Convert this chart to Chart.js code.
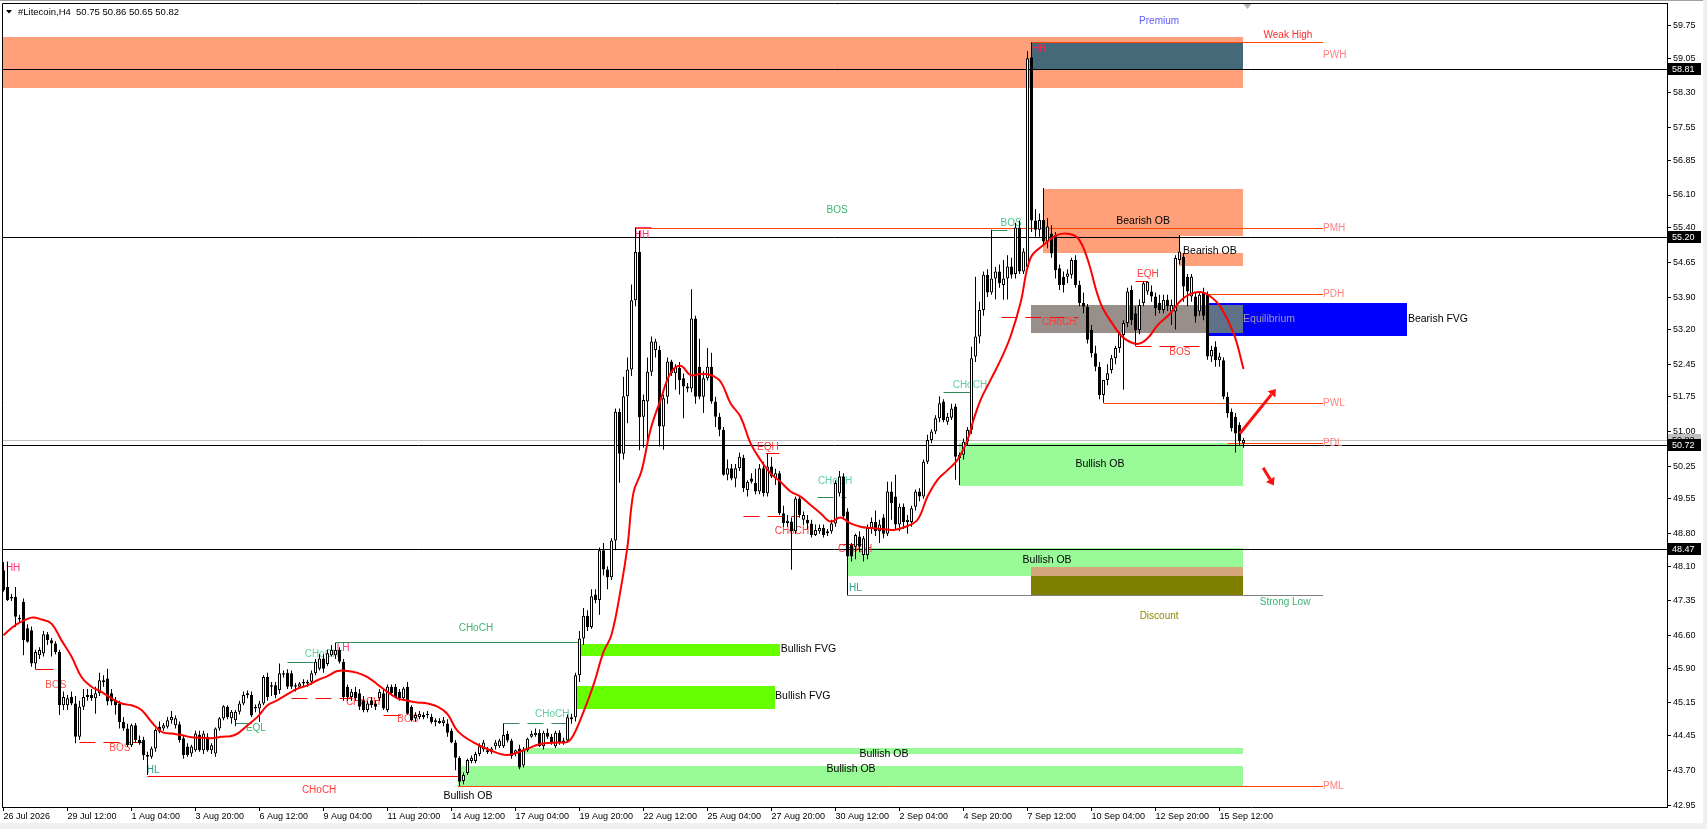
<!DOCTYPE html>
<html>
<head>
<meta charset="utf-8">
<title>#Litecoin,H4</title>
<script src="https://cdn.jsdelivr.net/npm/chart.js@4.4.1/dist/chart.umd.min.js"></script>
<style>
  html, body { margin: 0; padding: 0; background: #fff; overflow: hidden; }
  #wrap { width: 1707px; height: 829px; position: relative; }
</style>
</head>
<body>
<div id="wrap"><canvas id="chart" width="1707" height="829"></canvas></div>
<script>
// H4 candles (bar 0 = 26 Jul 2026)
const opens = [
  48.01,47.65,47.40,47.44,46.95,47.33,46.76,46.72,46.00,46.18,
  46.22,46.63,46.50,46.43,46.25,45.10,45.10,45.28,45.14,44.42,
  45.07,45.28,45.32,45.25,45.36,45.60,45.68,45.36,45.21,45.14,
  44.74,44.60,44.24,44.67,44.35,44.35,44.03,43.99,44.17,44.64,
  44.60,44.64,44.78,44.67,44.69,44.39,44.21,44.06,44.13,44.46,
  44.13,44.42,44.13,44.06,44.60,44.82,45.07,44.82,44.78,44.96,
  45.14,45.32,45.32,45.07,45.03,45.14,45.71,45.50,45.53,45.43,
  45.76,45.80,45.79,45.50,45.50,45.57,45.57,45.61,45.79,45.89,
  46.11,45.99,46.18,46.18,46.29,46.04,45.50,45.28,45.39,45.36,
  45.21,45.00,45.21,45.14,45.25,45.36,45.00,45.50,45.50,45.39,
  45.25,45.50,45.07,44.82,44.85,44.89,44.89,44.85,44.74,44.76,
  44.72,44.71,44.55,44.30,43.97,43.47,43.64,43.90,43.90,44.05,
  44.15,44.13,44.09,44.22,44.22,44.22,44.48,44.34,44.05,44.17,
  43.80,44.13,44.42,44.46,44.51,44.22,44.51,44.42,44.22,44.51,
  44.30,44.34,44.80,44.84,45.75,46.54,47.03,46.79,47.49,47.37,
  48.44,48.03,47.86,48.65,51.43,50.52,51.76,52.34,53.83,54.87,
  51.32,51.65,52.29,52.76,52.76,51.11,51.75,52.51,52.26,52.37,
  52.15,51.97,51.93,53.44,52.40,51.75,52.15,52.40,51.65,51.32,
  51.04,50.07,50.21,49.99,50.21,50.43,49.74,49.99,49.89,49.71,
  50.21,49.67,50.25,50.00,50.10,49.24,49.03,49.06,48.85,49.56,
  49.10,49.10,49.02,48.77,48.85,48.92,48.81,48.85,49.02,49.67,
  50.03,49.28,48.56,48.52,48.74,48.34,48.34,48.92,49.05,48.85,
  49.15,48.80,49.71,49.60,49.00,49.38,49.05,49.05,49.38,49.71,
  49.60,50.35,50.82,51.00,51.29,51.65,51.21,51.30,51.54,50.43,
  50.50,50.78,51.04,52.62,53.05,53.62,54.38,54.00,54.30,54.45,
  54.16,54.30,54.56,54.40,55.40,54.45,54.55,59.07,55.55,55.35,
  55.56,55.10,55.27,55.24,54.52,54.34,54.34,54.38,54.70,54.16,
  53.77,53.69,53.19,52.69,52.40,51.79,52.11,52.33,52.58,52.80,
  53.08,53.34,54.05,53.55,53.19,53.77,54.02,54.02,53.91,53.77,
  53.62,53.84,53.59,53.59,54.70,54.77,54.34,53.91,53.91,53.59,
  54.00,53.97,52.62,52.83,52.54,52.54,51.75,51.43,51.32,51.14,50.75
];
const highs = [
  48.19,48.20,47.50,47.65,47.05,47.40,46.85,46.80,46.30,46.35,
  46.70,46.68,46.55,46.48,46.30,45.40,45.32,45.40,45.30,45.20,
  45.45,45.45,45.45,45.50,45.80,45.75,45.89,45.45,45.28,45.20,
  44.85,44.70,44.70,44.72,44.45,44.42,44.10,44.21,44.60,44.75,
  44.72,44.85,44.98,44.88,44.75,44.45,44.28,44.25,44.55,44.55,
  44.55,44.50,44.28,44.62,44.85,45.10,45.10,45.00,45.00,45.20,
  45.40,45.42,45.40,45.12,45.20,45.75,45.80,45.60,45.60,46.00,
  45.85,45.88,45.85,45.58,45.60,45.66,45.65,45.85,46.10,46.20,
  46.20,46.30,46.40,46.45,46.35,46.10,45.55,45.45,45.50,45.45,
  45.30,45.20,45.28,45.20,45.45,45.45,45.55,45.55,45.56,45.45,
  45.50,45.60,45.10,44.95,44.98,44.95,44.98,44.92,44.82,44.82,
  44.85,44.80,44.60,44.35,44.00,43.65,43.95,44.02,44.10,44.28,
  44.35,44.20,44.20,44.35,44.38,44.71,44.55,44.38,44.15,44.25,
  44.20,44.40,44.55,44.60,44.58,44.55,44.60,44.48,44.55,44.56,
  44.40,44.90,44.92,45.80,46.70,47.20,47.15,47.60,47.60,48.50,
  48.60,48.10,48.70,51.50,51.50,52.18,52.60,54.17,55.40,55.33,
  51.80,52.60,53.05,53.00,52.85,51.80,52.60,52.55,52.45,52.50,
  52.25,52.05,54.07,53.50,53.00,52.30,52.80,52.70,51.75,51.40,
  51.10,50.40,50.30,50.30,50.55,50.50,49.95,50.10,50.20,50.30,
  50.35,50.54,50.45,50.20,50.15,49.40,49.20,49.15,49.60,49.62,
  49.28,49.20,49.10,49.00,49.00,49.00,48.90,49.10,49.95,50.15,
  50.10,49.35,48.60,48.80,48.85,48.75,49.00,49.15,49.30,49.10,
  49.22,49.92,49.92,50.07,49.45,49.45,49.20,49.40,49.75,49.78,
  50.40,50.93,51.05,51.35,51.76,51.70,51.40,51.60,51.60,50.55,
  50.85,51.10,52.83,54.34,53.80,54.45,54.50,55.35,54.55,54.60,
  54.70,54.80,54.75,55.50,55.55,54.95,59.20,59.39,55.80,55.70,
  56.25,55.60,55.45,55.30,54.60,54.45,54.50,54.75,54.80,54.25,
  54.00,53.75,53.30,52.85,52.50,52.10,52.45,52.65,52.85,53.15,
  53.40,54.10,54.15,53.70,53.85,54.24,54.24,54.15,54.00,53.95,
  53.95,53.95,53.85,54.80,55.24,54.85,54.40,54.40,54.00,54.00,
  54.10,54.02,52.85,52.95,52.70,52.60,51.85,51.50,51.40,51.20,50.86
];
const lows = [
  47.55,47.35,47.35,46.79,46.88,46.18,46.45,45.93,45.88,46.10,
  46.15,46.40,46.15,46.20,44.89,45.00,45.00,45.10,44.28,44.35,
  45.00,45.20,45.20,44.92,45.30,45.50,45.10,45.10,44.90,44.60,
  44.55,44.20,44.20,44.30,44.25,43.92,43.60,43.95,44.10,44.50,
  44.55,44.60,44.70,44.60,44.30,43.95,43.99,43.99,44.10,44.10,
  44.05,44.10,44.05,43.99,44.55,44.78,44.80,44.70,44.65,44.90,
  45.10,45.25,44.85,44.95,44.74,45.10,45.20,45.30,45.25,45.35,
  45.70,45.45,45.45,45.40,45.45,45.50,45.50,45.55,45.75,45.85,
  45.80,45.95,46.15,46.10,46.00,45.20,45.20,45.20,45.20,45.00,
  44.95,44.95,45.05,45.00,45.20,45.00,44.95,45.30,45.25,45.20,
  45.20,44.90,44.75,44.75,44.80,44.80,44.82,44.70,44.65,44.70,
  44.65,44.42,44.28,43.70,43.36,43.40,43.60,43.85,43.85,44.00,
  44.10,44.05,44.05,44.15,44.18,44.18,44.30,43.95,44.00,43.72,
  43.76,44.10,44.40,44.42,44.20,44.15,44.38,44.25,44.18,44.25,
  44.25,44.30,44.70,44.75,45.60,46.40,46.70,46.75,47.30,47.05,
  47.90,47.60,47.80,48.44,49.90,50.40,51.18,52.20,53.70,50.60,
  50.65,50.82,52.20,52.60,50.68,50.61,51.60,52.20,51.90,51.80,
  51.29,51.85,51.85,51.60,51.70,51.40,52.10,51.60,51.10,50.90,
  50.05,49.95,49.95,49.80,50.15,49.70,49.60,49.88,49.65,49.65,
  49.60,49.60,50.00,49.85,49.20,48.95,48.95,48.02,48.80,49.15,
  48.98,48.90,48.72,48.75,48.80,48.72,48.75,48.80,48.95,49.60,
  49.10,47.47,48.20,48.25,48.40,48.20,48.25,48.80,48.75,48.60,
  48.70,48.75,49.10,48.90,48.85,48.90,48.80,48.95,49.30,49.50,
  49.55,50.30,50.75,50.95,51.20,51.20,51.15,51.25,49.96,49.85,
  50.40,50.70,50.95,52.50,52.90,53.50,53.90,53.95,53.85,54.10,
  53.84,53.85,54.30,54.30,54.40,54.40,54.50,55.30,55.20,55.20,
  55.00,54.95,54.75,54.30,54.05,54.00,54.20,54.30,54.10,53.70,
  53.55,52.90,52.60,52.30,51.70,51.62,52.00,52.25,52.45,52.70,
  51.90,53.25,53.30,52.85,53.10,53.70,53.95,53.80,53.50,53.55,
  53.55,53.60,53.30,53.20,54.60,53.80,53.70,53.80,53.35,53.50,
  53.40,52.55,52.50,52.40,52.40,51.70,51.30,51.00,50.55,50.70,50.65
];
const closes = [
  47.58,47.37,47.44,47.01,46.99,46.50,46.47,46.00,46.25,46.29,
  46.63,46.50,46.43,46.25,45.10,45.28,45.25,45.14,44.42,45.07,
  45.28,45.32,45.25,45.36,45.64,45.64,45.18,45.18,45.10,44.74,
  44.60,44.24,44.67,44.35,44.28,44.03,43.99,44.17,44.57,44.53,
  44.67,44.78,44.85,44.82,44.35,44.03,44.03,44.21,44.49,44.13,
  44.49,44.13,44.24,44.60,44.82,45.08,44.85,44.96,44.96,45.14,
  45.32,45.36,44.88,45.03,45.14,45.71,45.28,45.53,45.32,45.79,
  45.79,45.50,45.50,45.53,45.57,45.61,45.61,45.79,46.04,46.11,
  45.89,46.22,46.29,46.29,46.04,45.28,45.28,45.39,45.25,45.07,
  45.00,45.14,45.10,45.07,45.39,45.03,45.50,45.36,45.28,45.25,
  45.46,44.92,44.78,44.89,44.92,44.85,44.92,44.74,44.78,44.72,
  44.78,44.51,44.30,43.97,43.45,43.60,43.92,43.97,44.05,44.22,
  44.30,44.09,44.17,44.30,44.34,44.46,44.34,44.01,44.13,43.76,
  44.13,44.38,44.48,44.51,44.22,44.51,44.42,44.30,44.51,44.30,
  44.34,44.84,44.84,45.75,46.54,47.03,46.79,47.45,47.37,48.44,
  48.03,47.86,48.65,51.43,50.52,51.76,52.34,53.83,54.87,51.31,
  51.68,52.29,52.94,52.94,51.11,51.72,52.51,52.26,52.40,52.11,
  51.97,51.93,53.44,51.75,51.75,52.15,52.40,51.65,51.32,51.04,
  50.07,50.21,49.99,50.21,50.46,49.78,49.92,49.92,49.71,50.21,
  49.67,50.25,50.03,50.10,49.24,49.03,49.08,48.85,49.56,49.20,
  49.20,49.02,48.77,48.88,48.92,48.77,48.85,49.02,49.89,50.03,
  49.17,48.31,48.31,48.77,48.52,48.70,48.92,49.05,48.85,49.00,
  48.80,49.71,49.46,49.00,49.38,49.05,49.10,49.35,49.71,49.60,
  50.35,50.82,51.00,51.29,51.61,51.25,51.32,51.50,50.46,50.50,
  50.78,51.04,52.58,53.05,53.62,54.38,54.00,54.30,54.45,54.20,
  54.30,54.56,54.38,55.40,54.45,54.88,59.05,55.55,55.35,55.56,
  55.10,55.42,54.84,54.48,54.16,54.16,54.41,54.70,54.16,53.77,
  53.69,52.98,52.69,52.40,51.79,52.11,52.26,52.58,52.80,53.12,
  53.34,54.02,53.40,53.19,53.73,54.20,54.23,53.91,53.66,53.62,
  53.84,53.70,53.73,54.74,54.88,54.13,54.02,54.34,53.48,53.95,
  53.50,52.62,52.76,52.54,52.62,51.75,51.40,51.07,50.96,50.79,50.82
];

// red moving average, [bar, price] read at intervals
const maPoints = [
  [0,46.61],[3,46.83],[7,46.99],[9.5,46.95],[12,46.86],[14.5,46.50],[17,46.15],[19.5,45.71],
  [22,45.50],[24.5,45.39],[27,45.25],[29.5,45.14],[32,45.10],[34.5,45.00],[37,44.74],[39.5,44.53],
  [42,44.49],[44.5,44.46],[47,44.41],[49.5,44.40],[52,44.39],[54.5,44.42],[57,44.44],[58.5,44.49],
  [61,44.67],[63.5,44.85],[66,45.10],[68.5,45.21],[71,45.34],[73.5,45.46],[76,45.53],[78.5,45.64],
  [81,45.73],[83.5,45.84],[86,45.84],[88.5,45.80],[91,45.71],[93.5,45.55],[96,45.39],[98.5,45.25],
  [101,45.20],[103.5,45.16],[106,45.14],[108.5,45.07],[111,44.91],[113.5,44.55],[117.5,44.30],
  [122,44.12],[126,44.03],[130,44.13],[134,44.26],[138.5,44.30],[141,44.31],[142.5,44.46],
  [145,44.96],[147.5,45.54],[150,46.25],[152,46.62],[154.5,47.70],[156,48.53],[157.5,49.69],
  [159.5,50.15],[161.75,51.04],[164.25,51.68],[166.75,52.26],[169.25,52.42],[171.75,52.22],
  [174.25,52.24],[176.75,52.22],[179.25,52.08],[181.75,51.61],[184.25,51.32],[186.75,50.75],
  [189.25,50.39],[191.75,50.10],[194.25,49.92],[196.75,49.71],[199.25,49.60],[201.75,49.42],
  [204.25,49.24],[206.75,49.06],[209.25,49.15],[211.75,49.02],[214.25,48.95],[216.75,48.92],
  [219.5,48.90],[222.5,48.88],[225.5,48.95],[228.5,49.10],[231,49.60],[233.5,49.96],[236,50.17],
  [238.5,50.39],[241,50.82],[242.5,51.25],[244.25,51.68],[246.75,52.11],[249.25,52.54],
  [251.75,53.05],[254.25,53.77],[256.75,54.74],[260,55.02],[263.5,55.24],[266.5,55.26],
  [268.8,55.15],[271,54.72],[274.25,53.77],[277.6,53.28],[280,53.02],[283.4,52.89],[285.9,53.00],
  [288.6,53.30],[291.75,53.55],[294.25,53.82],[296.75,53.97],[299.25,54.01],[301.5,53.93],
  [304.25,53.69],[307.6,53.10],[310,52.35]
];

const timeLabels = ['26 Jul 2026','29 Jul 12:00','1 Aug 04:00','3 Aug 20:00','6 Aug 12:00',
  '9 Aug 04:00','11 Aug 20:00','14 Aug 12:00','17 Aug 04:00','19 Aug 20:00','22 Aug 12:00',
  '25 Aug 04:00','27 Aug 20:00','30 Aug 12:00','2 Sep 04:00','4 Sep 20:00','7 Sep 12:00',
  '10 Sep 04:00','12 Sep 20:00','15 Sep 12:00'];
const barsPerLabel = 16;
const priceTicks = [42.95,43.70,44.45,45.15,45.90,46.60,47.35,48.10,48.80,49.55,50.25,51.00,
  51.75,52.45,53.20,53.90,54.65,55.40,56.10,56.85,57.55,58.30,59.05,59.75];
const priceLines = [58.81, 55.20, 50.72, 48.47];
const bidPrice = 50.82;

// zones: [fromBar, toBar, priceTop, priceBottom, colour]
const zones = [
  [-0.5, 309.9, 59.51, 58.41, '#FFA07A'],
  [256.9, 309.9, 59.39, 58.81, '#46697A'],
  [259.9, 309.9, 56.23, 55.22, '#FFA07A'],
  [259.9, 293.9, 55.22, 54.86, '#FFA07A'],
  [293.9, 309.9, 54.86, 54.56, '#FFA07A'],
  [256.9, 301.1, 53.73, 53.12, '#988E8A'],
  [301.1, 350.9, 53.77, 53.07, '#0000FF'],
  [301.1, 309.9, 53.73, 53.12, '#5F7189'],
  [238.75, 309.9, 50.75, 49.82, '#98FB98'],
  [210.9, 309.9, 48.50, 47.89, '#98FB98'],
  [256.9, 309.9, 48.08, 47.89, '#D6A67C'],
  [256.9, 309.9, 47.89, 47.47, '#808000'],
  [129.8, 309.9, 44.17, 44.06, '#98FB98'],
  [113.6, 309.9, 43.79, 43.37, '#98FB98'],
  [144.1, 194.0, 46.42, 46.17, '#66FF00'],
  [143.1, 192.9, 45.52, 45.02, '#66FF00']
];

// level / structure lines: [fromBar, toBar, price, colour, dashed]
const segments = [
  [256.9, 329.9, 59.39, '#FF4500', false],
  [158, 329.9, 55.38, '#FF4500', false],
  [301.1, 329.9, 53.96, '#FF4500', false],
  [275, 329.9, 51.61, '#FF4500', false],
  [306, 329.9, 50.75, '#FF4500', false],
  [113.6, 329.9, 43.35, '#FF4500', false],
  [211, 329.9, 47.47, '#7F7F7F', false],
  [8, 12.5, 45.88, '#FF0000', false],
  [19, 35, 44.31, '#FF0000', true],
  [36, 113.6, 43.57, '#FF0000', false],
  [58, 63.4, 44.72, '#2E8B57', true],
  [71, 77.5, 46.03, '#2E8B57', false],
  [72, 87, 45.25, '#FF0000', true],
  [95, 99.3, 44.90, '#FF0000', false],
  [83, 144, 46.46, '#2E8B57', false],
  [125, 141, 44.72, '#2E8B57', true],
  [158, 162, 55.41, '#FF3377', false],
  [190.6, 194, 50.54, '#FF0000', true],
  [185, 199, 49.18, '#FF0000', true],
  [203.5, 210.7, 49.59, '#2E8B57', true],
  [209, 214, 48.58, '#FF0000', false],
  [235, 242, 51.86, '#2E8B57', false],
  [247, 251, 55.35, '#2E8B57', false],
  [249.5, 268.7, 53.48, '#FF0000', true],
  [283, 286, 54.25, '#FF0000', true],
  [283, 299.5, 52.85, '#FF0000', true]
];

// labels: [text, bar, price, colour, align, size]
const labels = [
  ['Premium', 288.9, 59.85, '#5B5BFF', 'center', 10],
  ['Weak High', 321.1, 59.55, '#FF2A2A', 'center', 10],
  ['PWH', 329.9, 59.12, '#FF7F7F', 'left', 10],
  ['PMH', 329.9, 55.38, '#FF7F7F', 'left', 10],
  ['PDH', 329.9, 53.96, '#FF7F7F', 'left', 10],
  ['PWL', 329.9, 51.61, '#FF7F7F', 'left', 10],
  ['PDL', 329.9, 50.75, '#FF7F7F', 'left', 10],
  ['PML', 329.9, 43.35, '#FF7F7F', 'left', 10],
  ['Bearish OB', 284.9, 55.54, '#000000', 'center', 10.5],
  ['Bearish OB', 294.9, 54.89, '#000000', 'left', 10.5],
  ['Equilibrium', 309.9, 53.43, '#A09AB4', 'left', 10.5],
  ['Bearish FVG', 351.1, 53.43, '#000000', 'left', 10.5],
  ['Bullish OB', 274.1, 50.30, '#000000', 'center', 10.5],
  ['Bullish OB', 260.9, 48.22, '#000000', 'center', 10.5],
  ['Bullish OB', 220.1, 44.04, '#000000', 'center', 10.5],
  ['Bullish OB', 211.9, 43.73, '#000000', 'center', 10.5],
  ['Bullish OB', 116.1, 43.14, '#000000', 'center', 10.5],
  ['Bullish FVG', 194.3, 46.31, '#000000', 'left', 10.5],
  ['Bullish FVG', 192.9, 45.29, '#000000', 'left', 10.5],
  ['Discount', 288.9, 47.03, '#8B8B00', 'center', 10],
  ['Strong Low', 320.4, 47.33, '#3CB371', 'center', 10],
  ['HH', 257.1, 59.24, '#FF2050', 'left', 10],
  ['HH', 159.6, 55.23, '#FF3377', 'center', 10],
  ['BOS', 208.4, 55.77, '#3CB371', 'center', 10],
  ['BOS', 251.9, 55.49, '#4CC28E', 'center', 10],
  ['CHoCH', 263.9, 53.35, '#FF3B3B', 'center', 10],
  ['CHoCH', 241.6, 51.99, '#5FCFA0', 'center', 10],
  ['EQH', 286.1, 54.40, '#FF3B3B', 'center', 10],
  ['BOS', 294.1, 52.72, '#FF3B3B', 'center', 10],
  ['EQH', 191.1, 50.67, '#FF3B3B', 'center', 10],
  ['CHoCH', 197.1, 48.86, '#FF3B3B', 'center', 10],
  ['CHoCH', 207.9, 49.92, '#5FCFA0', 'center', 10],
  ['CHoCH', 212.9, 48.47, '#FF3B3B', 'center', 10],
  ['HL', 211.4, 47.63, '#2E9E8A', 'left', 10],
  ['CHoCH', 118.1, 46.76, '#3CB371', 'center', 10],
  ['CHoCH', 137.2, 44.90, '#5FCFA0', 'center', 10],
  ['HH', 2.4, 48.06, '#FF3377', 'center', 10],
  ['BOS', 13.1, 45.53, '#FF5050', 'center', 10],
  ['BOS', 29.1, 44.17, '#FF5050', 'center', 10],
  ['HL', 37.4, 43.70, '#2E9E8A', 'center', 10],
  ['CHoCH', 78.9, 43.26, '#FF3B3B', 'center', 10],
  ['EQL', 63.1, 44.61, '#3CB371', 'center', 10],
  ['CHoCH', 79.6, 46.20, '#5FCFA0', 'center', 10],
  ['LH', 84.9, 46.33, '#FF3377', 'center', 10],
  ['CHoCH', 89.9, 45.17, '#FF3B3B', 'center', 10],
  ['BOS', 101.1, 44.81, '#FF5050', 'center', 10]
];

// arrows: [fromBar, fromPrice, toBar, toPrice]
const arrows = [
  [309.1, 50.96, 318.1, 51.92],
  [314.9, 50.22, 317.6, 49.84]
];

const FONT = '"Liberation Sans", Arial, sans-serif';

const overlay = {
  id: 'overlay',
  beforeDatasetsDraw(chart) {
    const { ctx, chartArea: a, scales: { x, y } } = chart;
    ctx.save();
    ctx.beginPath();
    ctx.rect(a.left, a.top, a.right - a.left, a.bottom - a.top);
    ctx.clip();

    zones.forEach(z => {
      const x1 = Math.round(x.getPixelForValue(z[0]));
      const x2 = Math.round(x.getPixelForValue(z[1]));
      const y1 = Math.round(y.getPixelForValue(z[2]));
      const y2 = Math.round(y.getPixelForValue(z[3]));
      ctx.fillStyle = z[4];
      ctx.fillRect(x1, y1, x2 - x1, y2 - y1);
    });

    ctx.lineWidth = 1;
    // bid line
    const yb = Math.round(y.getPixelForValue(bidPrice)) + 0.5;
    ctx.strokeStyle = '#C0C0C0';
    ctx.beginPath(); ctx.moveTo(a.left, yb); ctx.lineTo(a.right, yb); ctx.stroke();

    segments.forEach(s => {
      const x1 = x.getPixelForValue(s[0]), x2 = x.getPixelForValue(s[1]);
      const yy = Math.round(y.getPixelForValue(s[2])) + 0.5;
      ctx.strokeStyle = s[3];
      ctx.setLineDash(s[4] ? [16, 8] : []);
      ctx.beginPath(); ctx.moveTo(x1, yy); ctx.lineTo(x2, yy); ctx.stroke();
    });
    ctx.setLineDash([]);

    // horizontal price lines
    ctx.strokeStyle = '#000';
    priceLines.forEach(p => {
      const yy = Math.round(y.getPixelForValue(p)) + 0.5;
      ctx.beginPath(); ctx.moveTo(a.left, yy); ctx.lineTo(a.right, yy); ctx.stroke();
    });

    ctx.textBaseline = 'middle';
    labels.forEach(l => {
      ctx.font = l[5] + 'px ' + FONT;
      ctx.fillStyle = l[3];
      ctx.textAlign = l[4];
      ctx.fillText(l[0], x.getPixelForValue(l[1]), y.getPixelForValue(l[2]));
    });

    // chart shift marker
    const mx = x.getPixelForValue(311);
    ctx.fillStyle = '#B4B4B4';
    ctx.beginPath(); ctx.moveTo(mx - 4, a.top + 1); ctx.lineTo(mx + 4, a.top + 1); ctx.lineTo(mx, a.top + 6); ctx.closePath(); ctx.fill();
    ctx.restore();
  },
  afterDatasetsDraw(chart) {
    const { ctx, scales: { x, y } } = chart;
    ctx.save();
    ctx.strokeStyle = '#FF1010';
    ctx.fillStyle = '#FF1010';
    ctx.lineWidth = 3;
    arrows.forEach(ar => {
      const x1 = x.getPixelForValue(ar[0]), y1 = y.getPixelForValue(ar[1]);
      const x2 = x.getPixelForValue(ar[2]), y2 = y.getPixelForValue(ar[3]);
      const ang = Math.atan2(y2 - y1, x2 - x1);
      const hx = x2 - 7 * Math.cos(ang), hy = y2 - 7 * Math.sin(ang);
      ctx.beginPath(); ctx.moveTo(x1, y1); ctx.lineTo(hx, hy); ctx.stroke();
      ctx.beginPath();
      ctx.moveTo(x2, y2);
      ctx.lineTo(hx + 5 * Math.sin(ang), hy - 5 * Math.cos(ang));
      ctx.lineTo(hx - 5 * Math.sin(ang), hy + 5 * Math.cos(ang));
      ctx.closePath(); ctx.fill();
    });
    ctx.restore();
  },
  afterDraw(chart) {
    const { ctx, chartArea: a, scales: { y } } = chart;
    ctx.save();
    // frame
    ctx.strokeStyle = '#000';
    ctx.lineWidth = 1;
    ctx.beginPath();
    ctx.moveTo(a.left + 0.5, a.bottom); ctx.lineTo(a.left + 0.5, a.top + 0.5); ctx.lineTo(a.right, a.top + 0.5);
    ctx.stroke();
    ctx.strokeStyle = '#A0A0A0';
    ctx.beginPath(); ctx.moveTo(0, 0.5); ctx.lineTo(1707, 0.5); ctx.stroke();
    ctx.fillStyle = '#F0F0F0';
    ctx.fillRect(0, 823, 1707, 6);
    ctx.fillRect(1703, 0, 4, 829);

    // price labels on the axis
    ctx.font = '9px ' + FONT;
    ctx.textBaseline = 'middle';
    ctx.textAlign = 'left';
    const box = (p, bg, fg) => {
      const yy = Math.round(y.getPixelForValue(p));
      ctx.fillStyle = bg;
      ctx.fillRect(a.right + 1, yy - 6, 33, 12);
      ctx.fillStyle = fg;
      ctx.fillText(p.toFixed(2), a.right + 5, yy + 0.5);
    };
    box(bidPrice, '#C0C0C0', '#000');
    priceLines.forEach(p => box(p, '#000', '#fff'));

    // title
    ctx.fillStyle = '#000';
    ctx.beginPath(); ctx.moveTo(6, 10); ctx.lineTo(12, 10); ctx.lineTo(9, 13.5); ctx.closePath(); ctx.fill();
    ctx.font = '9.5px ' + FONT;
    ctx.fillText('#Litecoin,H4  50.75 50.86 50.65 50.82', 18, 12);
    ctx.restore();
  }
};

const idx = opens.map((_, i) => i);

new Chart(document.getElementById('chart'), {
  type: 'bar',
  data: {
    datasets: [
      {
        type: 'line',
        data: maPoints.map(p => ({ x: p[0], y: p[1] })),
        borderColor: '#FF0000',
        borderWidth: 2,
        pointRadius: 0,
        tension: 0.4,
        order: 0
      },
      {
        data: idx.map(i => ({ x: i, y: [Math.min(opens[i], closes[i]), Math.max(opens[i], closes[i])] })),
        backgroundColor: idx.map(i => closes[i] >= opens[i] ? '#FFFFFF' : '#000000'),
        borderColor: '#000000',
        borderWidth: 1,
        borderSkipped: false,
        inflateAmount: 0,
        barThickness: 3,
        minBarLength: 1,
        grouped: false,
        order: 1
      },
      {
        data: idx.map(i => ({ x: i, y: [lows[i], highs[i]] })),
        backgroundColor: '#000000',
        borderWidth: 0,
        inflateAmount: 0,
        barThickness: 1,
        grouped: false,
        order: 2
      }
    ]
  },
  options: {
    responsive: false,
    animation: false,
    devicePixelRatio: 1,
    layout: { padding: { left: 2, top: 3, right: 0, bottom: 0 } },
    plugins: { legend: { display: false }, tooltip: { enabled: false } },
    scales: {
      x: {
        type: 'linear',
        position: 'bottom',
        min: -0.375,
        max: 415.875,
        offset: false,
        afterBuildTicks: s => { s.ticks = timeLabels.map((t, k) => ({ value: k * barsPerLabel })); },
        afterFit: s => { s.height = 22; s.paddingLeft = 0; s.paddingRight = 0; },
        ticks: {
          autoSkip: false,
          maxRotation: 0,
          align: 'start',
          padding: 0,
          color: '#000',
          font: { family: FONT, size: 9 },
          callback: v => timeLabels[Math.round(v / barsPerLabel)]
        },
        grid: { drawOnChartArea: false, offset: false, tickLength: 4, color: '#000' },
        border: { color: '#000' }
      },
      y: {
        type: 'linear',
        position: 'right',
        min: 42.908,
        max: 60.239,
        afterBuildTicks: s => { s.ticks = priceTicks.map(v => ({ value: v })); },
        afterFit: s => { s.width = 40; s.paddingTop = 0; s.paddingBottom = 0; },
        ticks: {
          padding: 2,
          color: '#000',
          font: { family: FONT, size: 9 },
          callback: v => v.toFixed(2)
        },
        grid: { drawOnChartArea: false, tickLength: 4, color: '#000' },
        border: { color: '#000' }
      }
    }
  },
  plugins: [overlay]
});
</script>
</body>
</html>
